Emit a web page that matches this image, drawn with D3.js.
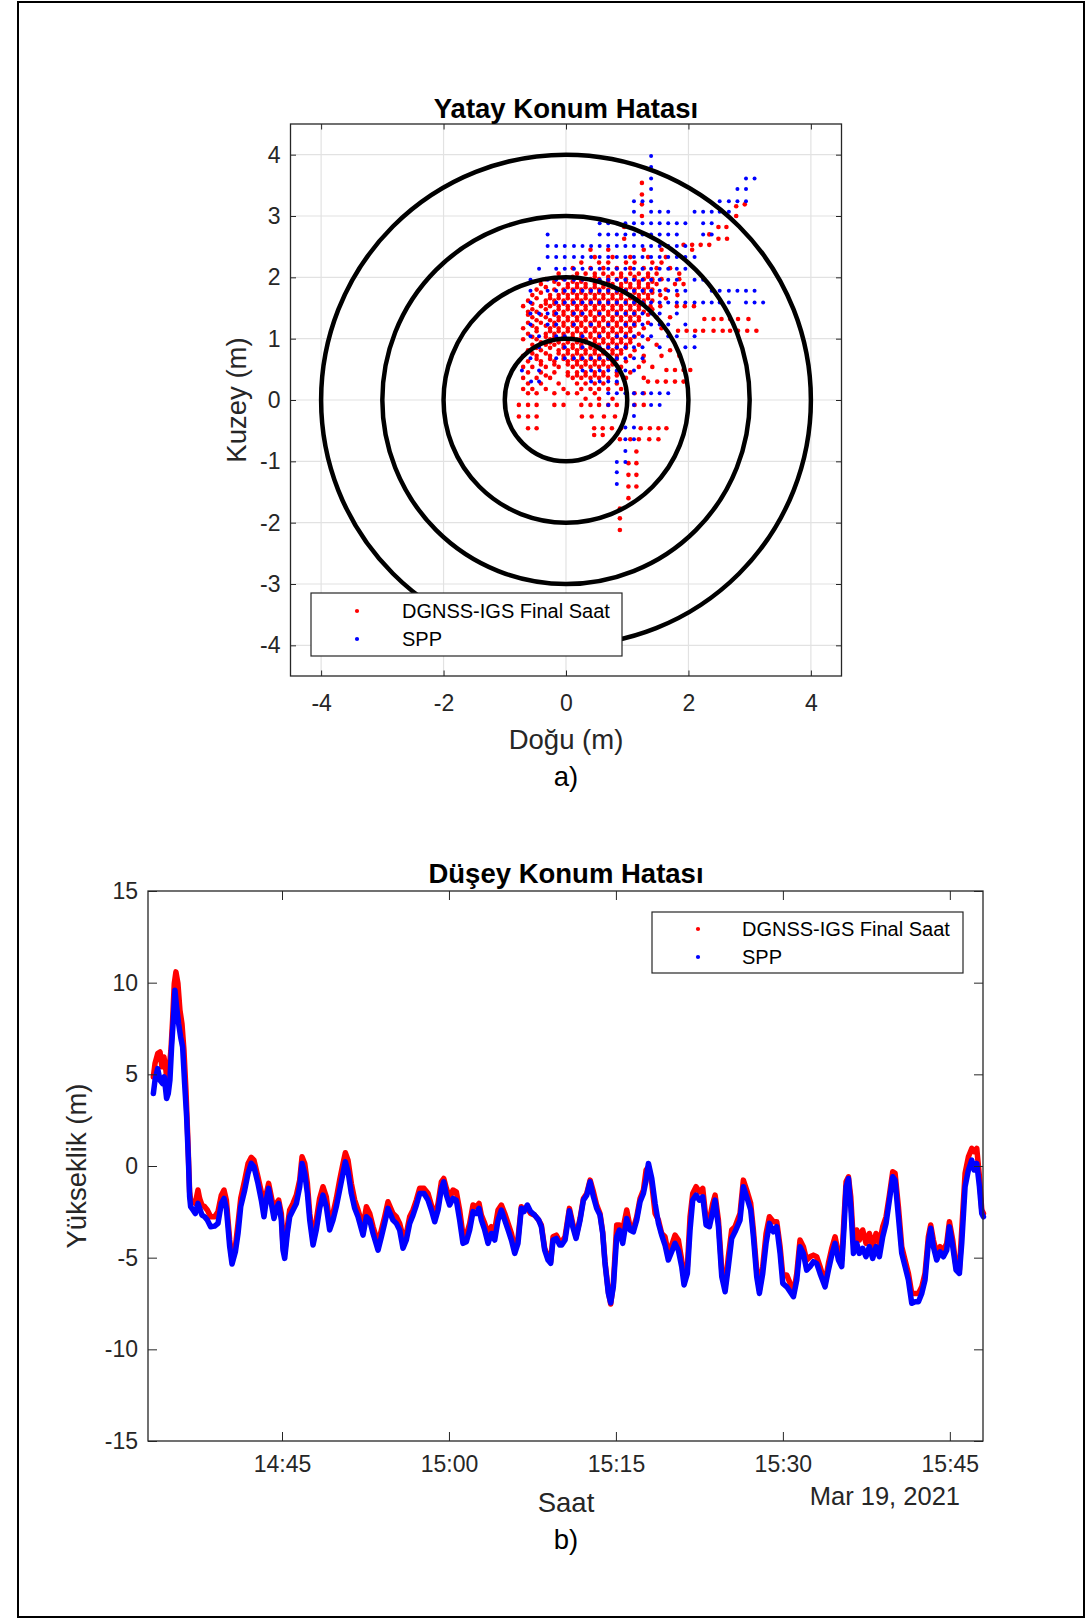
<!DOCTYPE html>
<html><head><meta charset="utf-8">
<script src="https://cdn.jsdelivr.net/npm/d3@7"></script>
<style>body{margin:0;background:#fff} svg text{font-family:"Liberation Sans",Arial,Helvetica,sans-serif}</style>
</head><body><svg id="c" width="1086" height="1618"></svg>
<script>
// ---------------- DATA ----------------
// a) horizontal error scatter (East, North in m), grouped by rows: [north, [east values]]
const dgnssRows = [
 [3.54,[1.24]],[3.35,[1.24]],[3.19,[1.24,2.92]],[3.16,[2.78]],[3.00,[1.24,2.78]],
 [2.82,[0.95,2.49,2.62]],[2.70,[2.34]],[2.63,[0.95,2.49,2.63]],[2.53,[1.92,2.06,2.20,2.34]],
 [2.45,[0.40,0.69,1.27,1.56,2.06]],[2.33,[0.47,0.76,1.05,1.34,1.63]],
 [2.24,[0.25,0.54,0.69,0.98,1.12,1.41,1.56]],
 [2.15,[0.11,0.40,0.61,0.83,1.05,1.27,1.48,1.70]],
 [2.06,[-0.12,0.18,0.32,0.47,0.61,0.76,0.90,1.05,1.19,1.34,1.48,1.85]],
 [2.01,[0.11,0.47,0.69,0.90,1.12,1.34]],
 [1.97,[-0.33,-0.04,0.25,0.40,0.54,0.69,0.83,0.98,1.12,1.27,1.41,1.56,1.85]],
 [1.93,[-0.19,0.11,0.25,0.54,0.69,0.98,1.19,1.41]],
 [1.89,[-0.41,-0.12,0.03,0.18,0.32,0.47,0.61,0.76,0.90,1.05,1.19,1.34,1.48,1.78,1.92]],
 [1.84,[-0.33,0.03,0.18,0.32,0.47,0.61,0.76,0.90,1.05,1.19,1.34]],
 [1.80,[-0.48,-0.19,-0.04,0.11,0.25,0.40,0.54,0.69,0.83,0.98,1.12,1.27,1.41,1.63]],
 [1.75,[-0.41,-0.04,0.11,0.25,0.40,0.54,0.69,0.83,0.98,1.12,1.27,1.41]],
 [1.71,[-0.55,-0.26,-0.12,0.03,0.18,0.32,0.47,0.61,0.76,0.90,1.05,1.19,1.34,1.54,1.82]],
 [1.66,[-0.48,-0.26,-0.12,0.03,0.18,0.32,0.47,0.61,0.76,0.90,1.05,1.19,1.34,1.63]],
 [1.62,[-0.62,-0.33,-0.19,-0.04,0.11,0.25,0.40,0.54,0.69,0.83,0.98,1.12,1.27,1.41]],
 [1.57,[-0.55,-0.33,-0.19,-0.04,0.11,0.25,0.40,0.54,0.69,0.83,0.98,1.12,1.27]],
 [1.53,[-0.70,-0.41,-0.26,-0.12,0.03,0.18,0.32,0.47,0.61,0.76,0.90,1.05,1.19,1.38,1.54,1.81,1.94,2.09]],
 [1.48,[-0.55,-0.33,-0.12,0.03,0.18,0.32,0.47,0.61,0.76,0.90,1.05,1.19,1.41]],
 [1.44,[-0.62,-0.48,-0.19,-0.04,0.11,0.25,0.40,0.54,0.69,0.83,0.98,1.12,1.27]],
 [1.39,[-0.62,-0.41,-0.19,-0.04,0.11,0.25,0.40,0.54,0.69,0.83,0.98,1.12,1.34]],
 [1.35,[-0.55,-0.33,-0.12,0.03,0.18,0.32,0.47,0.61,0.76,0.90,1.05,1.19,1.48,1.70]],
 [1.32,[2.26,2.41,2.54,2.68,2.81,2.98]],
 [1.30,[-0.48,-0.26,-0.12,0.03,0.18,0.32,0.47,0.61,0.76,0.90,1.05,1.19]],
 [1.26,[-0.62,-0.41,-0.19,-0.04,0.11,0.25,0.40,0.54,0.69,0.83,0.98,1.12,1.34]],
 [1.21,[-0.55,-0.33,-0.19,-0.04,0.11,0.25,0.40,0.54,0.69,0.83,0.98,1.12]],
 [1.17,[-0.70,-0.48,-0.26,-0.12,0.03,0.18,0.32,0.47,0.61,0.76,0.90,1.05,1.27,1.56]],
 [1.13,[1.83,1.97,2.11,2.24,2.41,2.56,2.68,2.81,2.96,3.11]],
 [1.12,[-0.48,-0.26,-0.12,0.03,0.18,0.32,0.47,0.61,0.76,0.90,1.05]],
 [1.08,[-0.62,-0.33,-0.19,-0.04,0.11,0.25,0.40,0.54,0.69,0.83,0.98,1.19]],
 [1.03,[-0.55,-0.33,-0.19,-0.04,0.11,0.25,0.40,0.54,0.69,0.83,0.98,1.12]],
 [0.99,[-0.70,-0.48,-0.26,-0.12,0.03,0.18,0.32,0.47,0.61,0.76,0.90,1.05,1.34]],
 [0.94,[-0.41,-0.26,-0.12,0.03,0.18,0.32,0.47,0.61,0.76,0.90,1.05]],
 [0.90,[-0.55,-0.33,-0.19,-0.04,0.11,0.25,0.40,0.54,0.69,0.83,0.98,1.19,1.48]],
 [0.85,[-0.48,-0.26,-0.04,0.11,0.25,0.40,0.54,0.69,0.83,0.98]],
 [0.81,[-0.62,-0.41,-0.12,0.03,0.18,0.32,0.47,0.61,0.76,0.90,1.12,1.70]],
 [0.76,[-0.55,-0.33,-0.12,0.03,0.18,0.32,0.47,0.61,0.76,0.90]],
 [0.72,[-0.70,-0.48,-0.26,-0.04,0.11,0.25,0.40,0.54,0.69,0.83,1.05,1.27,1.56,1.85]],
 [0.67,[-0.48,-0.26,-0.04,0.11,0.25,0.40,0.54,0.69,0.83]],
 [0.63,[-0.62,-0.41,-0.19,0.03,0.18,0.32,0.47,0.61,0.76,0.98,1.27]],
 [0.58,[-0.41,-0.19,0.03,0.18,0.32,0.47,0.61,0.76]],
 [0.54,[-0.70,-0.55,-0.33,-0.12,0.11,0.25,0.40,0.54,0.69,0.90,1.19,1.41]],
 [0.49,[1.64,1.78,1.92,2.03]],
 [0.45,[-0.62,-0.41,-0.19,0.03,0.18,0.32,0.47,0.61,0.83,1.05]],
 [0.40,[-0.33,0.03,0.18,0.32,0.47,0.61,0.83]],
 [0.36,[-0.70,-0.48,-0.26,0.11,0.25,0.40,0.54,0.69,0.98,1.27]],
 [0.30,[1.34,1.49,1.63,1.78,1.92]],
 [0.27,[-0.62,-0.41,-0.12,0.18,0.32,0.47,0.61,0.83]],
 [0.18,[-0.70,-0.55,-0.33,-0.04,0.25,0.40,0.54,0.69,0.90]],
 [0.11,[-0.62,-0.48,-0.19,0.03,0.18,0.47,1.12,1.27]],
 [0.02,[0.32,0.54,0.76]],
 [-0.08,[-0.77,-0.62,-0.48,-0.19,-0.04,0.25,0.40,0.54,0.69,0.83,1.12,1.27]],
 [-0.27,[-0.77,-0.62,-0.48,0.26,0.42,0.62,0.80]],
 [-0.46,[-0.62,-0.48,0.46,0.60,0.75,0.90,1.22,1.37,1.51,1.64]],
 [-0.57,[0.46,0.60]],
 [-0.64,[0.88,1.05,1.19,1.36,1.51]],
 [-0.84,[1.15]],[-1.03,[1.02,1.15]],[-1.22,[1.02,1.15]],[-1.41,[1.02,1.15]],
 [-1.60,[1.02]],[-1.77,[0.88]],[-1.93,[0.88]],[-2.12,[0.88]]
];
const sppRows = [
 [3.98,[1.39]],[3.80,[1.39]],[3.61,[1.39,2.94,3.08]],[3.44,[1.39,2.80,2.94]],
 [3.24,[1.11,1.25,1.39,2.51,2.66,2.80,2.94]],
 [3.07,[1.11,1.39,1.53,1.67,2.10,2.24,2.38,2.51,2.66]],
 [2.88,[0.55,0.69,0.83,0.97,1.11,1.25,1.39,1.53,1.67,1.81,1.95,2.24,2.38]],
 [2.70,[-0.30,0.55,0.69,0.83,0.97,1.11,1.25,1.39,1.53,1.67,1.81,2.24,2.38]],
 [2.51,[-0.30,-0.16,-0.02,0.13,0.27,0.41,0.55,0.69,0.83,0.97,1.11,1.25,1.39,1.53,1.67,1.81,1.95]],
 [2.33,[-0.30,-0.16,-0.02,0.13,0.27,0.41,0.55,0.69,0.83,0.97,1.11,1.25,1.39,1.53,1.67,1.81,1.95,2.10]],
 [2.14,[-0.44,-0.16,-0.02,0.13,0.27,0.41,0.55,0.69,0.83,0.97,1.11,1.25,1.39,1.53,1.67,1.81,1.95]],
 [1.96,[-0.58,-0.30,-0.16,-0.02,0.13,0.27,0.41,0.55,0.69,0.83,0.97,1.11,1.25,1.39,1.53,1.67,1.81,2.10,2.24]],
 [1.78,[-0.58,-0.30,-0.16,-0.02,0.13,0.27,0.41,0.55,0.69,0.83,0.97,1.11,1.25,1.39,1.53,1.67,1.81,1.95,2.38,2.51,2.66,2.80,2.94,3.08]],
 [1.59,[-0.58,-0.16,-0.02,0.13,0.27,0.41,0.55,0.69,0.83,0.97,1.11,1.25,1.39,1.53,1.67,1.81,1.95,2.10,2.24,2.38,2.51,2.66,2.94,3.08,3.22]],
 [1.41,[-0.58,-0.44,-0.30,-0.16,0.13,0.27,0.55,0.83,0.97,1.11,1.25,1.39,1.53,1.81]],
 [1.23,[-0.58,-0.30,-0.16,0.13,0.41,0.69,0.97,1.11,1.25,1.39,1.53,1.67,1.95]],
 [1.04,[-0.58,-0.44,-0.16,-0.02,0.27,0.55,0.83,0.97,1.11,1.25,1.39,1.67,1.81,2.10]],
 [0.86,[-0.44,-0.02,0.27,0.55,0.69,0.83,0.97,1.11,1.25,1.53,1.95,2.10]],
 [0.68,[-0.58,-0.16,-0.02,0.13,0.27,0.41,0.55,0.69,0.83,0.97,1.11,1.25]],
 [0.48,[-0.72,-0.44,0.27,0.41,0.55,0.69,0.83,0.97,1.11]],
 [0.30,[-0.57,-0.44,0.41,0.55,0.69,0.83]],
 [0.11,[0.69,0.83,0.97,1.11,1.25,1.39,1.53,1.67]],
 [-0.08,[0.69,1.11,1.39,1.53]],[-0.26,[1.11]],[-0.45,[0.97,1.11]],[-0.64,[0.97,1.11]],
 [-0.83,[0.97]],[-1.01,[0.83,0.97]],[-1.18,[0.83]],[-1.37,[0.83]]
];
const ringRadii = [1, 2, 3, 4];
const eastTicks = [-4, -2, 0, 2, 4];
const northTicks = [-4, -3, -2, -1, 0, 1, 2, 3, 4];

// b) vertical error time series: minutes after 14:30 on 19 Mar 2021, height (m)
const dgnssEarlyMinutes = [3.44,3.59,3.83,4.04,4.21,4.39,4.57,4.69,4.87,5.02,5.17,5.32,5.47,5.65,5.83,6.01,6.19,6.37,6.52];
const dgnssEarlyHeight  = [4.86,5.59,6.13,6.22,5.41,5.95,5.22,4.50,5.41,6.31,7.95,9.95,10.59,9.95,8.50,7.77,6.31,4.13,1.77];
const sppEarlyMinutes   = [3.44,3.59,3.83,4.04,4.27,4.42,4.63,4.78,4.93,5.08,5.23,5.38,5.53,5.71,5.89,6.07,6.25,6.43,6.58];
const sppEarlyHeight    = [3.95,4.68,5.31,4.68,4.50,4.86,3.68,3.95,4.68,6.50,7.95,9.59,8.68,7.77,7.04,6.50,4.50,2.68,0.50];
const mainMinutes = [
 6.70,6.79,7.00,7.21,7.45,7.60,7.81,8.05,8.29,8.59,8.95,9.25,9.55,9.79,10.00,10.30,10.51,10.81,11.05,11.29,
 11.65,11.95,12.24,12.48,12.84,13.14,13.38,13.59,13.80,14.04,14.28,14.49,14.70,14.94,15.09,15.24,15.48,15.69,15.99,16.29,
 16.59,16.80,17.04,17.28,17.49,17.79,18.08,18.38,18.68,18.98,19.28,19.58,19.88,20.18,20.48,20.69,20.93,21.23,21.53,21.83,
 22.28,22.58,22.88,23.18,23.63,23.93,24.22,24.52,24.97,25.27,25.57,25.87,26.17,26.47,26.77,27.07,27.37,27.76,28.12,28.42,
 28.72,29.02,29.32,29.53,29.77,30.06,30.36,30.66,30.96,31.26,31.56,31.86,32.16,32.46,32.70,32.91,33.21,33.51,33.81,34.11,
 34.41,34.71,35.01,35.31,35.61,35.91,36.20,36.50,36.74,37.04,37.34,37.70,38.06,38.30,38.60,38.90,39.14,39.35,39.65,39.95,
 40.13,40.43,40.82,41.12,41.42,41.78,42.08,42.38,42.68,42.98,43.27,43.57,43.81,44.02,44.32,44.53,44.77,45.07,45.31,45.61,
 45.97,46.27,46.57,46.87,47.17,47.47,47.71,47.92,48.22,48.52,48.82,49.11,49.41,49.71,50.01,50.31,50.61,50.91,51.12,51.42,
 51.66,51.90,52.20,52.50,52.80,53.10,53.40,53.70,53.91,54.21,54.51,54.81,55.10,55.40,55.70,56.15,56.45,56.75,57.11,57.35,
 57.65,57.89,58.19,58.49,58.79,59.15,59.45,59.75,59.99,60.35,60.65,60.95,61.25,61.54,61.84,62.14,62.44,62.74,63.04,63.34,
 63.79,64.09,64.39,64.69,64.99,65.29,65.50,65.68,65.89,66.10,66.34,66.64,66.87,67.17,67.47,67.77,68.07,68.37,68.67,68.97,
 69.27,69.57,69.87,70.08,70.38,70.68,70.98,71.28,71.58,71.88,72.18,72.48,72.77,73.07,73.28,73.52,73.82,74.12,74.42,74.72,
 74.96,75.26,75.56,75.86,76.07,76.37,76.67,76.97,77.18,77.42,77.66,77.87,78.02
];
const sppHeight = [
 -1.68,-2.22,-2.40,-2.59,-2.04,-2.31,-2.68,-2.77,-2.95,-3.31,-3.28,-3.13,-2.04,-1.77,-2.31,-4.40,-5.35,-4.68,-3.68,-2.22,
 -1.31,-0.40,0.14,-0.04,-0.95,-1.86,-2.77,-1.86,-1.22,-2.04,-2.86,-2.31,-2.04,-2.95,-4.59,-5.04,-3.68,-2.77,-2.40,-2.04,
 -1.13,0.14,-0.40,-1.50,-2.95,-4.31,-3.49,-2.31,-1.59,-2.22,-3.49,-2.95,-2.22,-1.31,-0.40,0.23,-0.31,-1.50,-2.31,-2.77,
 -3.77,-2.77,-2.95,-3.68,-4.59,-3.86,-3.13,-2.31,-2.95,-3.13,-3.49,-4.49,-4.04,-3.13,-2.68,-2.13,-1.50,-1.50,-1.86,-2.40,
 -3.04,-2.40,-1.22,-0.86,-1.59,-2.13,-1.77,-1.86,-2.95,-4.22,-4.13,-3.49,-2.49,-2.59,-2.31,-2.95,-3.49,-4.22,-3.68,-4.04,
 -2.95,-2.40,-2.95,-3.49,-4.04,-4.77,-4.22,-2.31,-2.49,-2.13,-2.49,-2.68,-2.95,-3.31,-4.59,-5.13,-5.31,-4.04,-3.95,-4.31,
 -4.31,-4.04,-2.44,-3.31,-3.95,-2.95,-1.86,-1.59,-0.86,-1.68,-2.31,-2.68,-3.68,-5.31,-6.95,-7.46,-6.58,-3.86,-3.49,-4.22,
 -2.86,-3.49,-3.59,-2.95,-1.95,-1.50,-0.77,0.14,-0.68,-2.04,-3.13,-3.77,-4.31,-5.13,-4.68,-4.22,-4.59,-5.49,-6.49,-5.86,
 -3.49,-1.86,-1.59,-1.86,-1.68,-3.22,-3.31,-2.49,-1.86,-3.31,-6.04,-6.86,-5.49,-3.95,-3.59,-2.95,-1.13,-1.68,-2.40,-3.86,
 -6.04,-6.95,-5.86,-4.22,-3.13,-3.59,-3.31,-4.77,-6.40,-6.59,-6.86,-7.13,-6.22,-4.40,-4.77,-5.68,-5.49,-5.22,-5.31,-5.86,
 -6.59,-5.68,-4.86,-4.22,-5.13,-5.49,-3.31,-1.13,-0.68,-2.22,-4.77,-4.22,-4.77,-4.49,-4.95,-4.40,-5.04,-4.40,-4.95,-3.86,
 -3.13,-1.86,-0.59,-0.77,-2.77,-4.77,-5.49,-6.22,-7.49,-7.40,-7.40,-6.95,-6.22,-4.22,-3.40,-4.40,-5.13,-4.68,-4.95,-4.59,
 -3.31,-4.40,-5.68,-5.86,-4.22,-1.13,-0.22,0.32,-0.22,0.14,-1.13,-2.59,-2.77
];
const dgnssHeight = [
 -1.41,-1.86,-1.95,-2.04,-1.31,-1.77,-2.13,-2.22,-2.40,-2.77,-2.77,-2.49,-1.59,-1.31,-1.86,-4.04,-5.13,-4.40,-3.13,-1.77,
 -0.77,0.14,0.47,0.32,-0.59,-1.41,-2.40,-1.50,-0.95,-1.68,-2.40,-2.04,-1.86,-2.59,-4.40,-4.77,-3.31,-2.40,-2.04,-1.59,
 -0.77,0.50,0.14,-0.95,-2.59,-4.04,-2.95,-1.77,-1.13,-1.68,-3.13,-2.59,-1.77,-0.77,0.14,0.72,0.32,-0.95,-1.86,-2.40,
 -3.31,-2.22,-2.59,-3.31,-4.22,-3.49,-2.77,-1.95,-2.59,-2.77,-3.13,-3.86,-3.68,-2.77,-2.40,-1.86,-1.22,-1.22,-1.50,-2.13,
 -2.77,-2.04,-0.86,-0.68,-1.22,-1.77,-1.31,-1.41,-2.40,-3.77,-3.77,-3.13,-2.13,-2.22,-2.04,-2.68,-3.13,-3.68,-3.31,-3.49,
 -2.40,-2.13,-2.59,-3.13,-3.68,-4.49,-3.95,-2.22,-2.40,-2.31,-2.59,-2.68,-2.95,-3.22,-4.49,-4.95,-5.22,-3.86,-3.77,-4.13,
 -4.13,-3.86,-2.31,-3.13,-3.86,-2.86,-1.77,-1.50,-0.77,-1.41,-2.13,-2.59,-3.59,-5.22,-6.86,-7.53,-6.40,-3.22,-3.22,-3.49,
 -2.40,-3.31,-3.40,-2.77,-1.77,-1.31,-0.22,-0.04,-0.95,-2.59,-2.95,-3.68,-3.86,-4.77,-4.31,-3.77,-4.04,-5.13,-6.04,-5.49,
 -2.77,-1.50,-1.13,-1.41,-1.22,-2.95,-2.95,-2.04,-1.59,-2.95,-5.68,-6.59,-4.95,-3.49,-3.31,-2.59,-0.77,-1.31,-2.04,-3.49,
 -5.68,-6.77,-5.49,-3.68,-2.77,-3.04,-3.04,-4.40,-5.95,-5.95,-6.40,-6.95,-5.86,-4.04,-4.40,-5.13,-4.95,-4.86,-4.95,-5.49,
 -6.40,-5.31,-4.49,-3.86,-4.77,-5.13,-2.77,-0.86,-0.59,-1.68,-4.22,-3.49,-4.04,-3.49,-4.22,-3.68,-4.40,-3.68,-4.22,-3.31,
 -2.77,-1.59,-0.31,-0.40,-2.22,-4.40,-5.13,-5.86,-6.95,-6.95,-6.95,-6.59,-5.86,-3.86,-3.22,-4.04,-4.77,-4.40,-4.59,-4.22,
 -3.04,-4.04,-5.49,-5.68,-3.49,-0.40,0.50,0.96,0.78,0.96,-0.59,-2.40,-2.59
];
const heightTicks = [-15, -10, -5, 0, 5, 10, 15];
const timeTickLabels = ["14:45", "15:00", "15:15", "15:30", "15:45"];
const seriesNames = ["DGNSS-IGS Final Saat", "SPP"];
const seriesColors = ["#ff0000", "#0000ff"];

// ---------------- DRAW ----------------
const svg = d3.select('#c');
const INK = '#262626';
const FONT = '"Liberation Sans",Arial,Helvetica,sans-serif';
svg.append('rect').attr('width',1086).attr('height',1618).attr('fill','#fff');
svg.append('rect').attr('x',18).attr('y',2).attr('width',1066).attr('height',1615)
  .attr('fill','none').attr('stroke','#000').attr('stroke-width',2);

// ===== Plot a) =====
const A = {l:290.5, r:841.5, t:124, b:676};
const sx = d3.scaleLinear().domain([-4.5,4.5]).range([A.l,A.r]);
const sy = d3.scaleLinear().domain([-4.5,4.5]).range([A.b,A.t]);
const ga = svg.append('g');
ga.append('g').selectAll('line').data(eastTicks).join('line')
  .attr('x1',d=>sx(d)).attr('x2',d=>sx(d)).attr('y1',A.t).attr('y2',A.b)
  .attr('stroke','#e2e2e2').attr('stroke-width',1.2);
ga.append('g').selectAll('line').data(northTicks).join('line')
  .attr('y1',d=>sy(d)).attr('y2',d=>sy(d)).attr('x1',A.l).attr('x2',A.r)
  .attr('stroke','#e2e2e2').attr('stroke-width',1.2);

const dgnssPts = dgnssRows.flatMap(([n,es]) => es.map(e => [e,n]));
const sppPts = sppRows.flatMap(([n,es]) => es.map(e => [e,n]));
ga.append('g').selectAll('circle').data(dgnssPts).join('circle')
  .attr('cx',d=>sx(d[0])).attr('cy',d=>sy(d[1])).attr('r',2.3).attr('fill',seriesColors[0]);
ga.append('g').selectAll('circle').data(sppPts).join('circle')
  .attr('cx',d=>sx(d[0])).attr('cy',d=>sy(d[1])).attr('r',2.0).attr('fill',seriesColors[1]);
ga.append('g').selectAll('ellipse').data(ringRadii).join('ellipse')
  .attr('cx',sx(0)).attr('cy',sy(0))
  .attr('rx',d=>sx(d)-sx(0)).attr('ry',d=>sy(0)-sy(d))
  .attr('fill','none').attr('stroke','#000').attr('stroke-width',4.5);

function styleAxis(g, size){
  g.attr('color',INK).attr('font-family',FONT).attr('font-size',size);
  g.select('.domain').remove();
  g.selectAll('text').attr('fill',INK);
}
const TA = 5.5;
ga.append('g').attr('transform',`translate(0,${A.b})`)
  .call(d3.axisBottom(sx).tickValues(eastTicks).tickSizeInner(-TA).tickSizeOuter(0).tickPadding(19).tickFormat(d=>String(d)))
  .call(g=>styleAxis(g,23));
ga.append('g').attr('transform',`translate(0,${A.t})`)
  .call(d3.axisTop(sx).tickValues(eastTicks).tickSizeInner(-TA).tickSizeOuter(0).tickFormat(''))
  .call(g=>styleAxis(g,23));
ga.append('g').attr('transform',`translate(${A.l},0)`)
  .call(d3.axisLeft(sy).tickValues(northTicks).tickSizeInner(-TA).tickSizeOuter(0).tickPadding(10).tickFormat(d=>String(d)))
  .call(g=>styleAxis(g,23));
ga.append('g').attr('transform',`translate(${A.r},0)`)
  .call(d3.axisRight(sy).tickValues(northTicks).tickSizeInner(-TA).tickSizeOuter(0).tickFormat(''))
  .call(g=>styleAxis(g,23));
ga.append('rect').attr('x',A.l).attr('y',A.t).attr('width',A.r-A.l).attr('height',A.b-A.t)
  .attr('fill','none').attr('stroke',INK).attr('stroke-width',1.3);

ga.append('text').attr('x',566).attr('y',118).attr('text-anchor','middle')
  .attr('font-size',27.5).attr('font-weight','bold').attr('fill','#000').text('Yatay Konum Hatası');
ga.append('text').attr('x',566).attr('y',749).attr('text-anchor','middle')
  .attr('font-size',27.5).attr('fill',INK).text('Doğu (m)');
ga.append('text').attr('transform',`translate(246,${(A.t+A.b)/2}) rotate(-90)`).attr('text-anchor','middle')
  .attr('font-size',27.5).attr('fill',INK).text('Kuzey (m)');
ga.append('text').attr('x',566).attr('y',786).attr('text-anchor','middle')
  .attr('font-size',27.5).attr('fill','#000').text('a)');

function legend(g, x0, y0, w, h, mx, tx, rows){
  g.append('rect').attr('x',x0).attr('y',y0).attr('width',w).attr('height',h)
    .attr('fill','#fff').attr('stroke',INK).attr('stroke-width',1.2);
  rows.forEach((r,i)=>{
    g.append('circle').attr('cx',mx).attr('cy',r.my).attr('r',2.1).attr('fill',seriesColors[i]);
    g.append('text').attr('x',tx).attr('y',r.by).attr('font-size',20).attr('fill','#000').text(seriesNames[i]);
  });
}
legend(ga, 311, 593, 311, 63, 357, 402, [{my:611,by:618},{my:639,by:646}]);

// ===== Plot b) =====
const B = {l:148, r:983, t:891, b:1441};
const base = new Date(2021,2,19,14,30,0);
const toDate = m => new Date(base.getTime() + m*60000);
const parseHM = d3.timeParse('%Y-%m-%d %H:%M');
const timeTicks = timeTickLabels.map(s => parseHM('2021-03-19 ' + s));
const tx = d3.scaleTime().domain([toDate(2.96), toDate(77.98)]).range([B.l,B.r]);
const ty = d3.scaleLinear().domain([-15,15]).range([B.b,B.t]);
const gb = svg.append('g');

const dgnssSeries = dgnssEarlyMinutes.map((m,i)=>[toDate(m),dgnssEarlyHeight[i]])
  .concat(mainMinutes.map((m,i)=>[toDate(m),dgnssHeight[i]]));
const sppSeries = sppEarlyMinutes.map((m,i)=>[toDate(m),sppEarlyHeight[i]])
  .concat(mainMinutes.map((m,i)=>[toDate(m),sppHeight[i]]));
const line = d3.line().x(d=>tx(d[0])).y(d=>ty(d[1])).curve(d3.curveLinear);
gb.append('path').datum(dgnssSeries).attr('d',line).attr('fill','none')
  .attr('stroke',seriesColors[0]).attr('stroke-width',5.5).attr('stroke-linejoin','round').attr('stroke-linecap','round');
gb.append('path').datum(sppSeries).attr('d',line).attr('fill','none')
  .attr('stroke',seriesColors[1]).attr('stroke-width',5.5).attr('stroke-linejoin','round').attr('stroke-linecap','round');

const TB = 9;
gb.append('g').attr('transform',`translate(0,${B.b})`)
  .call(d3.axisBottom(tx).tickValues(timeTicks).tickSizeInner(-TB).tickSizeOuter(0).tickPadding(15).tickFormat(d3.timeFormat('%H:%M')))
  .call(g=>styleAxis(g,23));
gb.append('g').attr('transform',`translate(0,${B.t})`)
  .call(d3.axisTop(tx).tickValues(timeTicks).tickSizeInner(-TB).tickSizeOuter(0).tickFormat(''))
  .call(g=>styleAxis(g,23));
gb.append('g').attr('transform',`translate(${B.l},0)`)
  .call(d3.axisLeft(ty).tickValues(heightTicks).tickSizeInner(-TB).tickSizeOuter(0).tickPadding(10).tickFormat(d=>String(d)))
  .call(g=>styleAxis(g,23));
gb.append('g').attr('transform',`translate(${B.r},0)`)
  .call(d3.axisRight(ty).tickValues(heightTicks).tickSizeInner(-TB).tickSizeOuter(0).tickFormat(''))
  .call(g=>styleAxis(g,23));
gb.append('rect').attr('x',B.l).attr('y',B.t).attr('width',B.r-B.l).attr('height',B.b-B.t)
  .attr('fill','none').attr('stroke',INK).attr('stroke-width',1.3);

gb.append('text').attr('x',566).attr('y',883).attr('text-anchor','middle')
  .attr('font-size',27.5).attr('font-weight','bold').attr('fill','#000').text('Düşey Konum Hatası');
gb.append('text').attr('x',566).attr('y',1512).attr('text-anchor','middle')
  .attr('font-size',27.5).attr('fill',INK).text('Saat');
gb.append('text').attr('x',960).attr('y',1505).attr('text-anchor','end')
  .attr('font-size',25.5).attr('fill',INK).text(d3.timeFormat('%b %-d, %Y')(base));
gb.append('text').attr('transform',`translate(86,${(B.t+B.b)/2}) rotate(-90)`).attr('text-anchor','middle')
  .attr('font-size',27.5).attr('fill',INK).text('Yükseklik (m)');
gb.append('text').attr('x',566).attr('y',1549).attr('text-anchor','middle')
  .attr('font-size',27.5).attr('fill','#000').text('b)');

legend(gb, 652, 912, 311, 61, 698, 742, [{my:929,by:936},{my:957,by:964}]);
</script></body></html>
